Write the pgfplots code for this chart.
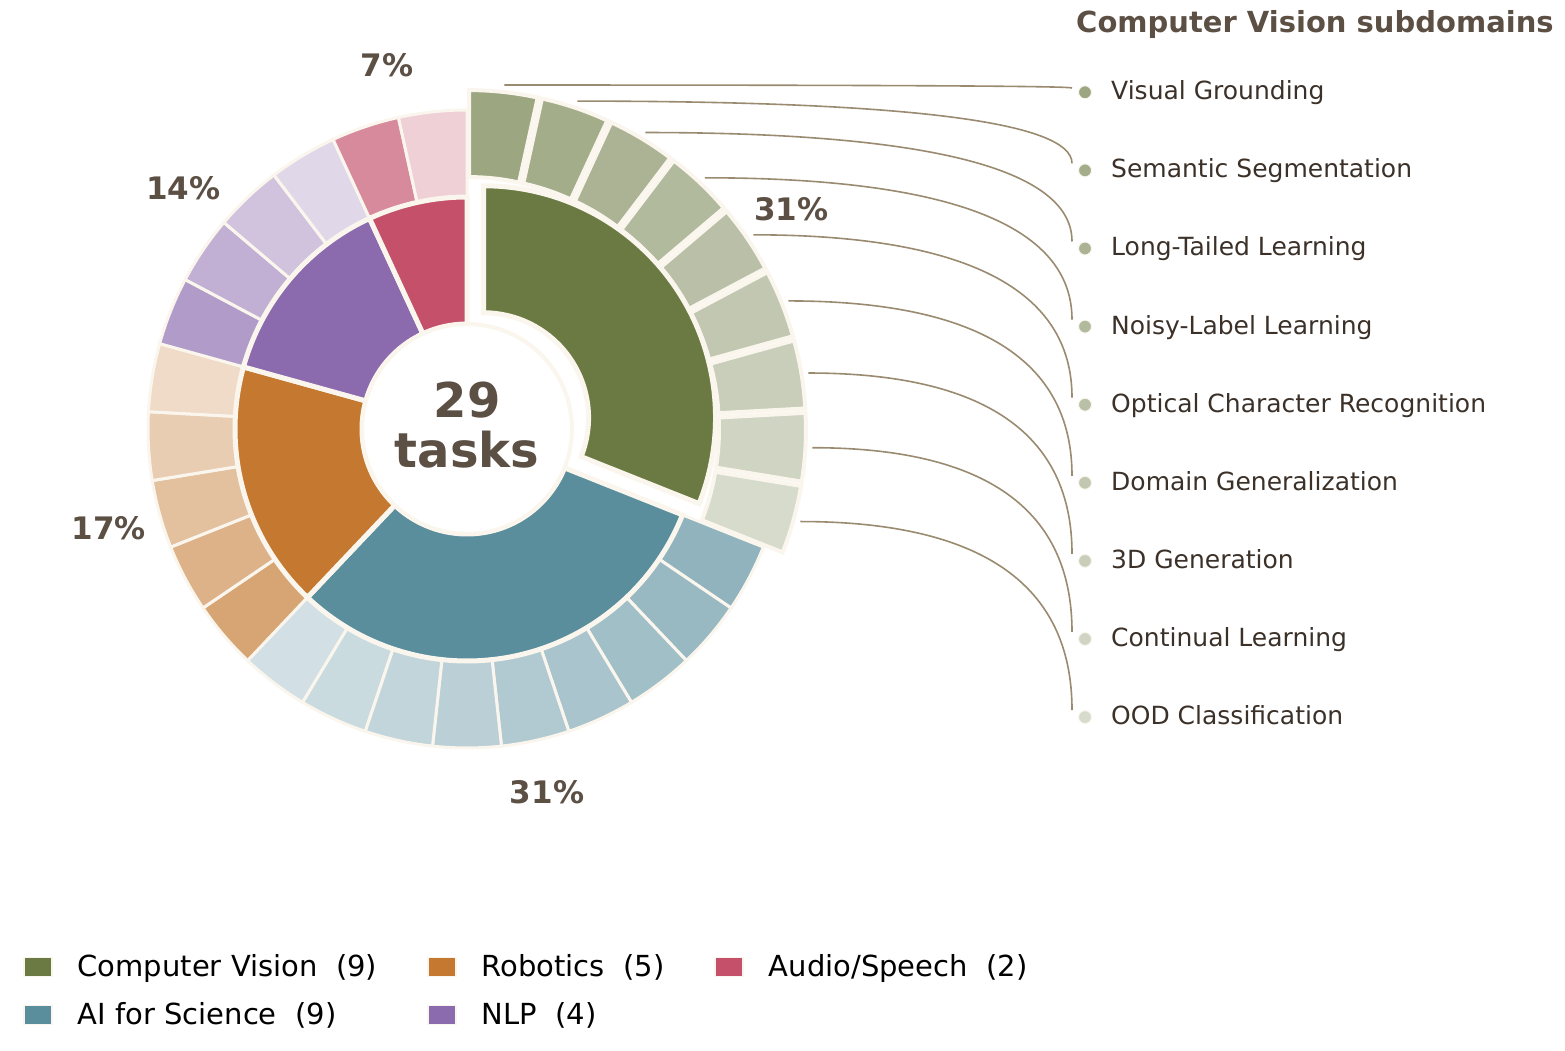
\documentclass[border=0pt]{standalone}
\usepackage{pgfplots}
\usepackage{pgfplotstable}
\pgfplotsset{compat=1.18}
\usepackage{fontspec}
\setmainfont{DejaVu Sans}

% palette
\definecolor{cv}{HTML}{6B7A43}
\definecolor{ai}{HTML}{5A8E9D}
\definecolor{rob}{HTML}{C47830}
\definecolor{nlp}{HTML}{8B6AAD}
\definecolor{aud}{HTML}{C4506A}
\definecolor{cream}{HTML}{FAF6EE}
\definecolor{ink}{HTML}{5C4F44}
\definecolor{listink}{HTML}{3B3129}
\definecolor{leader}{HTML}{9A8B70}

% task counts per domain; explode = radial offset of the highlighted domain
\pgfplotstableread[col sep=comma]{
domain,tasks,colour,explode
Computer Vision,9,cv,20
AI for Science,9,ai,0
Robotics,5,rob,0
NLP,4,nlp,0
Audio/Speech,2,aud,0
}\domains

% one entry per Computer Vision task, in ring order
\pgfplotstableread[col sep=comma]{
subdomain
Visual Grounding
Semantic Segmentation
Long-Tailed Learning
Noisy-Label Learning
Optical Character Recognition
Domain Generalization
3D Generation
Continual Learning
OOD Classification
}\cvsubs

% ring geometry (axis units = pt)
\def\cx{467}\def\cy{622}
\def\rhole{105}\def\rmid{232}\def\rout{319}
\def\rlabel{372}\def\rlead{346}

% annular sector: centre (#1,#2), radii #3..#4, angles #5 -> #6, style #7
\newcommand\annsector[7]{%
  \pgfmathsetmacro\sxa{#1+#4*cos(#5)}\pgfmathsetmacro\sya{#2+#4*sin(#5)}%
  \pgfmathsetmacro\sxb{#1+#3*cos(#6)}\pgfmathsetmacro\syb{#2+#3*sin(#6)}%
  \path[#7] (axis cs:\sxa,\sya) arc[start angle=#5, end angle=#6, radius=#4pt]
     -- (axis cs:\sxb,\syb) arc[start angle=#6, end angle=#5, radius=#3pt] -- cycle;%
}

\pgfplotsset{box legend/.style={legend image code/.code={%
  \draw[##1,draw=cream,line width=1.5pt] (0pt,-8.5pt) rectangle (28pt,10.5pt);}}}

\begin{document}
\begin{tikzpicture}
\begin{axis}[
  x=1pt, y=1pt, xmin=0, xmax=1565, ymin=0, ymax=1051,
  scale only axis, hide axis, clip=false,
  legend columns=3, legend cell align=left,
  legend style={at={(axis cs:23,97)}, anchor=north west, draw=none, fill=none,
    inner sep=0pt, font=\fontsize{29}{34}\selectfont, row sep=20pt, column sep=0pt,
    nodes={inner sep=0pt, text height=22pt, text depth=6pt},
    /tikz/every odd column/.append style={column sep=25pt},
    /tikz/every even column/.append style={column sep=50pt}},
]

% legend, filled row by row
\pgfplotsinvokeforeach{0,2,4,1,3}{
  \pgfplotstablegetelem{#1}{colour}\of\domains \edef\lgcol{\pgfplotsretval}
  \pgfplotstablegetelem{#1}{tasks}\of\domains \edef\lgn{\pgfplotsretval}
  \pgfplotstablegetelem{#1}{domain}\of\domains \edef\lgname{\pgfplotsretval}
  \edef\tmp{\noexpand\addlegendimage{box legend, fill=\lgcol}}\tmp
  \addlegendentryexpanded{\lgname\ \ (\lgn)}
}

\pgfplotsextra{
  \pgfplotstablegetrowsof{\domains}\pgfmathtruncatemacro\lastrow{\pgfplotsretval-1}
  \xdef\total{0}
  \foreach \k in {0,...,\lastrow}{%
    \pgfplotstablegetelem{\k}{tasks}\of\domains
    \pgfmathtruncatemacro\tmpsum{\total+\pgfplotsretval}\xdef\total{\tmpsum}}
  \pgfmathsetmacro\stepang{360/\total}

  % outer ring: one segment per task
  \xdef\done{0}
  \foreach \k in {0,...,\lastrow}{%
    \pgfplotstablegetelem{\k}{tasks}\of\domains \edef\ntask{\pgfplotsretval}%
    \pgfplotstablegetelem{\k}{colour}\of\domains \edef\col{\pgfplotsretval}%
    \pgfplotstablegetelem{\k}{explode}\of\domains \edef\ex{\pgfplotsretval}%
    \pgfmathsetmacro\lw{\ex>0 ? 4 : 3}%
    \foreach \j in {1,...,\ntask}{%
      \pgfmathsetmacro\angA{90-(\done+\j-1)*\stepang}%
      \pgfmathsetmacro\angB{90-(\done+\j)*\stepang}%
      \pgfmathsetmacro\angM{(\angA+\angB)/2}%
      \pgfmathsetmacro\ox{\cx+\ex*cos(\angM)}\pgfmathsetmacro\oy{\cy+\ex*sin(\angM)}%
      \pgfmathtruncatemacro\shade{67-40*(\j-1)/max(\ntask-1,1)}%
      \annsector{\ox}{\oy}{\rmid}{\rout}{\angA}{\angB}{fill=\col!\shade!white, draw=cream, line width=\lw pt}%
    }%
    \pgfmathtruncatemacro\tmpsum{\done+\ntask}\xdef\done{\tmpsum}%
  }

  % inner ring: one wedge per domain, with its share
  \xdef\done{0}
  \foreach \k in {0,...,\lastrow}{%
    \pgfplotstablegetelem{\k}{tasks}\of\domains \edef\ntask{\pgfplotsretval}%
    \pgfplotstablegetelem{\k}{colour}\of\domains \edef\col{\pgfplotsretval}%
    \pgfplotstablegetelem{\k}{explode}\of\domains \edef\ex{\pgfplotsretval}%
    \pgfmathsetmacro\angA{90-\done*\stepang}%
    \pgfmathsetmacro\angB{90-(\done+\ntask)*\stepang}%
    \pgfmathsetmacro\angM{(\angA+\angB)/2}%
    \pgfmathsetmacro\ox{\cx+\ex*cos(\angM)}\pgfmathsetmacro\oy{\cy+\ex*sin(\angM)}%
    \annsector{\ox}{\oy}{\rhole}{\rmid}{\angA}{\angB}{fill=\col, draw=cream, line width=5pt}%
    \pgfmathtruncatemacro\pct{round(100*\ntask/\total)}%
    \pgfmathsetmacro\lx{\cx+(\rlabel+\ex)*cos(\angM)}\pgfmathsetmacro\ly{\cy+(\rlabel+\ex)*sin(\angM)}%
    \node[inner sep=0pt, text=ink, font=\fontsize{31}{37}\selectfont\bfseries] at (axis cs:\lx,\ly) {\pct\%};%
    \pgfmathtruncatemacro\tmpsum{\done+\ntask}\xdef\done{\tmpsum}%
  }

  % centre hole and total
  \path[fill=white, draw=cream, line width=4pt] (axis cs:\cx,\cy) circle[radius=\rhole pt];
  \node[anchor=base, inner sep=0pt, text=ink, font=\fontsize{48}{58}\selectfont\bfseries] at (axis cs:\cx,633) {\total};
  \node[anchor=base, inner sep=0pt, text=ink, font=\fontsize{48}{58}\selectfont\bfseries] at (axis cs:\cx,583) {tasks};

  % Computer Vision subdomain list with leader curves
  \node[anchor=base west, inner sep=0pt, text=ink, font=\fontsize{29}{34}\selectfont\bfseries] at (axis cs:1076,1018) {Computer Vision subdomains};
  \pgfplotstablegetelem{0}{tasks}\of\domains \edef\ntask{\pgfplotsretval}
  \pgfmathtruncatemacro\lastsub{\ntask-1}
  \foreach \i in {0,...,\lastsub}{%
    \pgfmathsetmacro\angM{90-(\i+0.5)*\stepang}%
    \pgfmathsetmacro\sx{\cx+\rlead*cos(\angM)}\pgfmathsetmacro\sy{\cy+\rlead*sin(\angM)}%
    \pgfmathsetmacro\dy{1051-(92.3+78.1*\i)}%
    \pgfmathsetmacro\ey{min(\dy+7,\sy-3)}%
    \pgfmathsetmacro\cax{\sx+2/3*(1072-\sx)}%
    \pgfmathsetmacro\cby{\ey+2/3*(\sy-\ey)}%
    \draw[leader, line width=1.6pt] (axis cs:\sx,\sy) .. controls (axis cs:\cax,\sy) and (axis cs:1072,\cby) .. (axis cs:1072,\ey);%
    \pgfmathtruncatemacro\shade{67-40*\i/max(\ntask-1,1)}%
    \path[fill=cv!\shade!white, draw=cream, line width=1pt] (axis cs:1085,\dy) circle[radius=6.5pt];%
    \pgfplotstablegetelem{\i}{subdomain}\of\cvsubs
    \pgfmathsetmacro\by{\dy-7.5}%
    \node[anchor=base west, inner sep=0pt, text=listink, font=\fontsize{25}{30}\selectfont] at (axis cs:1111,\by) {\pgfplotsretval};%
  }
}
\end{axis}
\pgfresetboundingbox
\path (current axis.south west) rectangle (current axis.north east);
\end{tikzpicture}
\end{document}
